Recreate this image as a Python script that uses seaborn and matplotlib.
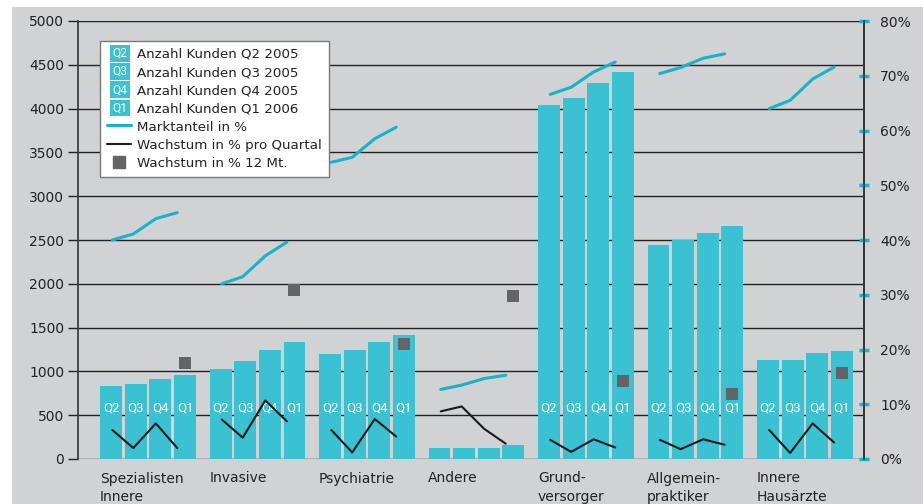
import numpy as np
import pandas as pd
import matplotlib
matplotlib.use("Agg")
import matplotlib.pyplot as plt
import seaborn as sns
from matplotlib.patches import Rectangle, Patch
from matplotlib.lines import Line2D
from matplotlib.text import Text
from matplotlib.legend_handler import HandlerBase

# Daten
gruppen = ["Spezialisten\nInnere", "Invasive", "Psychiatrie", "Andere",
           "Grund-\nversorger", "Allgemein-\npraktiker", "Innere\nHausärzte"]
quartale = ["Q2", "Q3", "Q4", "Q1"]
legend_kunden = ["Anzahl Kunden Q2 2005", "Anzahl Kunden Q3 2005",
                 "Anzahl Kunden Q4 2005", "Anzahl Kunden Q1 2006"]

kunden_q2_2005 = [830, 1030, 1200, 120, 4045, 2445, 1125]
kunden_q3_2005 = [852, 1120, 1250, 120, 4125, 2495, 1125]
kunden_q4_2005 = [910, 1250, 1330, 120, 4295, 2575, 1205]
kunden_q1_2006 = [955, 1330, 1410, 165, 4420, 2665, 1235]

marktanteil = [
    [40.0, 41.1, 43.9, 45.0],
    [32.0, 33.3, 37.1, 39.6],
    [54.2, 55.1, 58.5, 60.6],
    [12.7, 13.5, 14.7, 15.3],
    [66.6, 67.9, 70.7, 72.5],
    [70.4, 71.5, 73.2, 74.0],
    [64.0, 65.5, 69.4, 71.6],
]
wachstum_quartal = [
    [5.3, 2.0, 6.5, 2.0],
    [7.2, 3.9, 10.7, 6.9],
    [5.3, 1.2, 7.3, 4.1],
    [8.7, 9.6, 5.5, 2.8],
    [3.5, 1.3, 3.6, 2.1],
    [3.5, 1.8, 3.6, 2.6],
    [5.3, 1.1, 6.5, 3.0],
]
wachstum_12mt = [17.5, 30.8, 21.0, 29.7, 14.2, 11.9, 15.7]

# Farben
hintergrund = "#d1d2d4"
balken_farbe = "#3ac1d2"
linie_cyan = "#16b3c9"
linie_schwarz = "#1a1a1a"
quadrat_farbe = "#636466"
schmal = ["Roboto", "DejaVu Sans"]

sns.set_theme(style="white")
plt.rcParams["font.family"] = ["DejaVu Sans"]

df = pd.DataFrame({
    "gruppe": np.repeat(gruppen, 4),
    "quartal": quartale * len(gruppen),
    "kunden": np.column_stack([kunden_q2_2005, kunden_q3_2005,
                               kunden_q4_2005, kunden_q1_2006]).ravel(),
})

fig = plt.figure(figsize=(9.23, 5.04), dpi=100)
fig.patch.set_facecolor("white")
fig.patches.append(Rectangle((12 / 923, 0), 1, 1 - 7 / 504, transform=fig.transFigure,
                             facecolor=hintergrund, edgecolor="none", zorder=-10))

ax = fig.add_axes([78 / 923, 45 / 504, 786 / 923, 438 / 504])
ax.set_facecolor(hintergrund)
ax.set_axisbelow(True)

sns.barplot(data=df, x="gruppe", y="kunden", hue="quartal", hue_order=quartale,
            order=gruppen, palette=[balken_farbe] * 4, width=0.9, gap=0.11,
            saturation=1, legend=False, ax=ax, zorder=2, linewidth=0,
            edgecolor="none")

# Q-Beschriftungen in den Balken
hue_off = (np.arange(4) - 1.5) * 0.225
for i, g in enumerate(gruppen):
    werte = [kunden_q2_2005[i], kunden_q3_2005[i], kunden_q4_2005[i], kunden_q1_2006[i]]
    for j, q in enumerate(quartale):
        if werte[j] > 700:
            ax.text(i + hue_off[j], 580, q, color="white", ha="center", va="center",
                    fontsize=9.5, family=schmal, zorder=3)

ax.set_ylim(0, 5000)
ax.set_xlim(-0.64, 6.54)
ax.set_yticks(np.arange(0, 5001, 500))
ax.yaxis.grid(True, color="#222222", linewidth=1)
ax.xaxis.grid(False)
ax.set_xlabel("")
ax.set_ylabel("")
ax.set_xticks(np.arange(len(gruppen)) - 0.44)
ax.set_xticklabels(gruppen, ha="left", fontsize=10, linespacing=1.4, color="#222222")
ax.tick_params(axis="x", length=0, pad=9)
ax.tick_params(axis="y", direction="out", length=7, width=1, color="#222222",
               labelsize=10, labelcolor="#222222", pad=3)
for s in ["top", "bottom"]:
    ax.spines[s].set_visible(False)
for s in ["left", "right"]:
    ax.spines[s].set_visible(True)
    ax.spines[s].set_color("#333333")
    ax.spines[s].set_linewidth(1.2)

# Rechte Achse: Prozente
ax2 = ax.twinx()
ax2.set_ylim(0, 80)
ax2.set_yticks(np.arange(0, 81, 10))
ax2.set_yticklabels([f"{v}%" for v in range(0, 81, 10)])
ax2.tick_params(axis="y", direction="inout", length=7, width=2.5, color=linie_cyan,
                labelsize=10, labelcolor="#222222", pad=8)
for s in ["top", "left", "bottom"]:
    ax2.spines[s].set_visible(False)
ax2.spines["right"].set_visible(True)
ax2.spines["right"].set_color("#333333")
ax2.spines["right"].set_linewidth(1.2)

linie_off = np.array([-0.326, -0.135, 0.071, 0.267])
for i in range(len(gruppen)):
    sns.lineplot(x=i + linie_off, y=marktanteil[i], color=linie_cyan, linewidth=2.2,
                 ax=ax2, sort=False)
    sns.lineplot(x=i + linie_off, y=wachstum_quartal[i], color=linie_schwarz,
                 linewidth=1.5, ax=ax2, sort=False)
sns.scatterplot(x=np.arange(len(gruppen)) + hue_off[3], y=wachstum_12mt, marker="s",
                s=75, color=quadrat_farbe, edgecolor="none", ax=ax2, zorder=4)
ax2.set_xlim(-0.64, 6.54)
ax2.set_xlabel("")
ax2.set_ylabel("")


class QuartalHandler(HandlerBase):
    def __init__(self, txt):
        super().__init__()
        self.txt = txt

    def create_artists(self, legend, orig_handle, xdescent, ydescent, width, height,
                       fontsize, trans):
        pad = legend.labelspacing * fontsize / 2
        x0 = -xdescent + width * 0.12
        w = width * 0.85
        r = Rectangle((x0, -ydescent - pad), w, height + 2 * pad, facecolor=balken_farbe,
                      edgecolor="none", transform=trans)
        t = Text(x0 + w / 2, -ydescent + height / 2, self.txt, color="white",
                 ha="center", va="center", fontsize=fontsize * 0.9, family=schmal,
                 transform=trans)
        return [r, t]


bar_handles = [Patch(facecolor=balken_farbe) for _ in quartale]
line_handles = [
    Line2D([], [], color=linie_cyan, linewidth=2.2),
    Line2D([], [], color=linie_schwarz, linewidth=1.5),
    Line2D([], [], color=quadrat_farbe, marker="s", linestyle="none", markersize=9),
]
labels = legend_kunden + ["Marktanteil in %", "Wachstum in % pro Quartal",
                          "Wachstum in % 12 Mt."]
hmap = {h: QuartalHandler(q) for h, q in zip(bar_handles, quartale)}
leg = ax2.legend(bar_handles + line_handles, labels, handler_map=hmap,
                 loc="upper left", bbox_to_anchor=(0.028, 0.955), borderaxespad=0,
                 fontsize=9.6, handlelength=1.8, handleheight=1.0, labelspacing=0.35,
                 handletextpad=0.5, borderpad=0.5, frameon=True, fancybox=False,
                 framealpha=1)
leg.get_frame().set_facecolor("white")
leg.get_frame().set_edgecolor("#7a7a7a")
leg.get_frame().set_linewidth(1)
for t in leg.get_texts():
    t.set_color("#222222")

fig.savefig("out.png", dpi=100, facecolor=fig.get_facecolor())
